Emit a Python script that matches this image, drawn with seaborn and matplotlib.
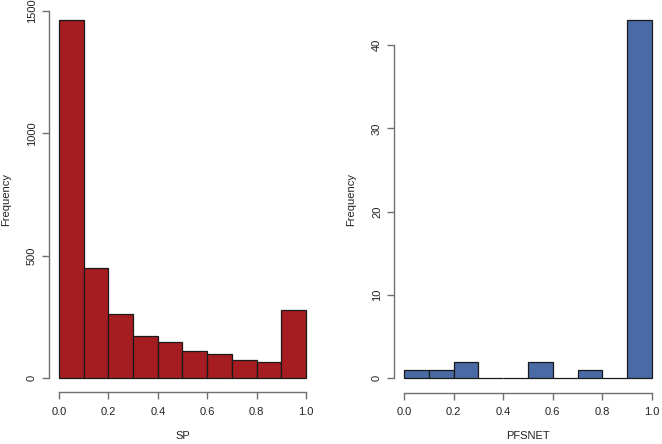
import numpy as np
import matplotlib
matplotlib.use("Agg")
import matplotlib.pyplot as plt
import seaborn as sns

# bin edges shared by both histograms
bin_edges = [0.0, 0.1, 0.2, 0.3, 0.4, 0.5, 0.6, 0.7, 0.8, 0.9, 1.0]

# counts per bin
sp_counts = [1463, 448, 262, 171, 146, 110, 97, 72, 64, 277]
pfsnet_counts = [1, 1, 2, 0, 0, 2, 0, 1, 0, 43]

sp_yticks = [0, 500, 1000, 1500]
pfsnet_yticks = [0, 10, 20, 30, 40]
xticks = [0.0, 0.2, 0.4, 0.6, 0.8, 1.0]

sns.set_style("white")
plt.rcParams['font.family'] = ['Liberation Sans', 'DejaVu Sans']

W, H = 662, 444
fig = plt.figure(figsize=(W / 100, H / 100), dpi=100)

centers = [(a + b) / 2 for a, b in zip(bin_edges[:-1], bin_edges[1:])]
axis_col = '#707070'
fs = 8


def r_hist(rect, counts, color, yticks, xlabel):
    ax = fig.add_axes(rect)
    sns.histplot(x=centers, weights=counts, bins=bin_edges, color=color,
                 edgecolor='#1a1a1a', linewidth=0.9, alpha=1, ax=ax)
    top = max(counts)
    pad = 0.04 * top
    ax.set_xlim(-0.04, 1.04)
    ax.set_ylim(-pad, top + pad)
    for s in ['top', 'right']:
        ax.spines[s].set_visible(False)
    ax.spines['left'].set_bounds(yticks[0], yticks[-1])
    ax.spines['bottom'].set_bounds(0, 1)
    for s in ['left', 'bottom']:
        ax.spines[s].set_color(axis_col)
        ax.spines[s].set_linewidth(1.0)
    ax.set_xticks(xticks)
    ax.set_xticklabels([f"{t:.1f}" for t in xticks])
    ax.set_yticks(yticks)
    ax.set_yticklabels([str(t) for t in yticks], rotation=90, va='center')
    ax.tick_params(axis='both', direction='out', length=4.7, width=1.0,
                   color=axis_col, labelsize=fs, labelcolor='#222222',
                   bottom=True, left=True)
    ax.tick_params(axis='x', pad=6)
    ax.tick_params(axis='y', pad=4)
    ax.set_xlabel(xlabel, fontsize=fs, color='#222222')
    ax.set_ylabel('Frequency', fontsize=fs, color='#222222')
    w_px = rect[2] * W
    h_px = rect[3] * H
    ax.xaxis.set_label_coords(0.5, -43.5 / h_px)
    ax.xaxis.label.set_va('center')
    ax.yaxis.set_label_coords(-42.8 / w_px, 0.5)
    ax.yaxis.label.set_va('center')
    ax.grid(False)
    return ax


def rect_px(x0, x1, y_top, y_bot):
    return [x0 / W, 1 - y_bot / H, (x1 - x0) / W, (y_bot - y_top) / H]


ax1 = r_hist(rect_px(49.1, 315.9, 5.8, 392.3), sp_counts, '#A51D20',
             sp_yticks, 'SP')
ax2 = r_hist(rect_px(394.1, 661.9, 5.7, 392.6), pfsnet_counts, '#4A6AA5',
             pfsnet_yticks, 'PFSNET')

fig.savefig("out.png", dpi=100)
